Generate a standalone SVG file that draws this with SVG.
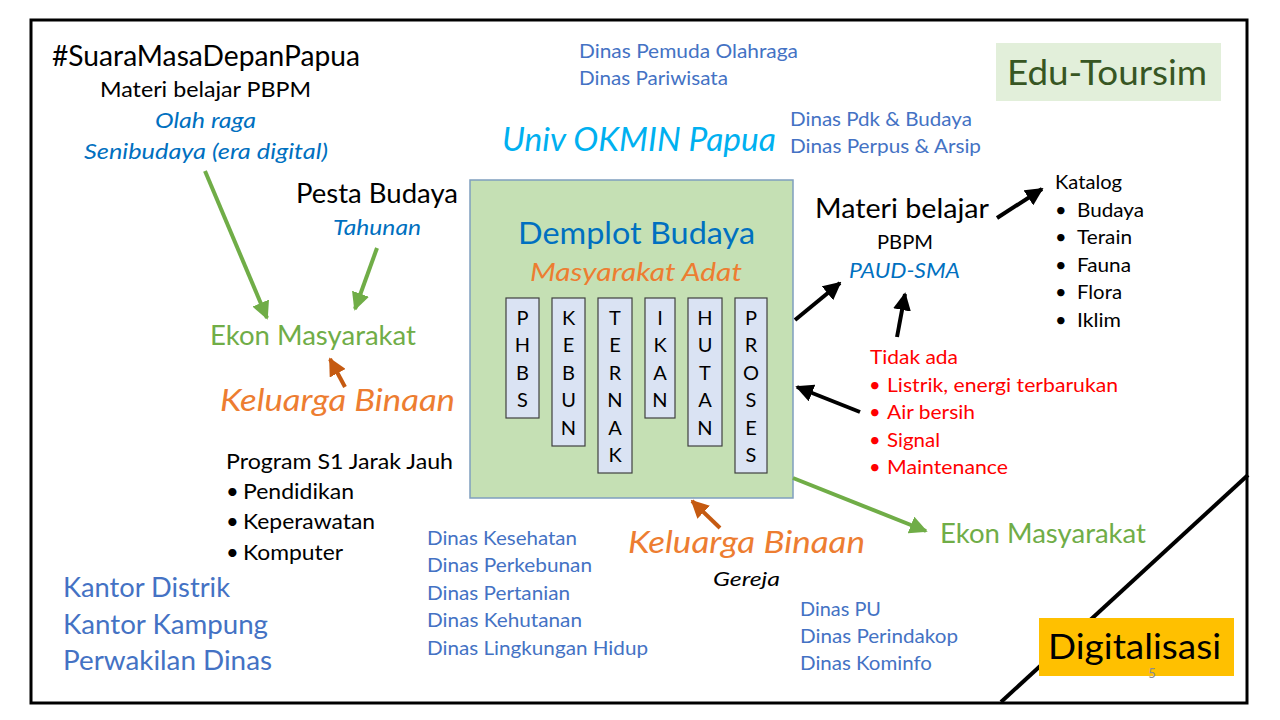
<svg xmlns="http://www.w3.org/2000/svg" width="1280" height="720" viewBox="0 0 1280 720">
<style>
text{font-family:Lato,"Open Sans","DejaVu Sans",sans-serif}
.blk{fill:#000}
.blu{fill:#4472c4}
.dblu{fill:#0070c0}
.org{fill:#ed7d31}
.grn{fill:#70ad47}
.red{fill:#ff0000}
.it{font-style:italic}
.mid{text-anchor:middle}
.bar{fill:#dae3f3;stroke:#404040;stroke-width:1.2}
.ltr{font-size:20px;fill:#000;text-anchor:middle}
.ag{stroke:#70ad47;stroke-width:4;fill:none}
.ab{stroke:#000;stroke-width:4;fill:none}
.ao{stroke:#c55a11;stroke-width:4;fill:none}
</style>
<defs>
<marker id="mg" viewBox="0 0 10 10" refX="9" refY="5" markerWidth="4.5" markerHeight="4.5" orient="auto" markerUnits="strokeWidth"><path d="M0,0 L10,5 L0,10 z" fill="#70ad47"/></marker>
<marker id="mb" viewBox="0 0 10 10" refX="9" refY="5" markerWidth="4.5" markerHeight="4.5" orient="auto" markerUnits="strokeWidth"><path d="M0,0 L10,5 L0,10 z" fill="#000"/></marker>
<marker id="mo" viewBox="0 0 10 10" refX="9" refY="5" markerWidth="4.5" markerHeight="4.5" orient="auto" markerUnits="strokeWidth"><path d="M0,0 L10,5 L0,10 z" fill="#c55a11"/></marker>
</defs>
<rect width="1280" height="720" fill="#fff"/>
<g id="frame">
<rect x="31" y="20" width="1216" height="683" fill="none" stroke="#000" stroke-width="3"/>
<line x1="1248" y1="475" x2="1001" y2="702" stroke="#000" stroke-width="4"/>
</g>
<g id="edu-toursim">
<rect x="996" y="43" width="225" height="58" fill="#e2efda"/>
<text x="1007" y="85" font-size="35" fill="#375623" textLength="200" lengthAdjust="spacingAndGlyphs">Edu-Toursim</text>
</g>
<g id="digitalisasi">
<rect x="1039" y="618" width="195" height="58" fill="#ffc000"/>
<text x="1048" y="659" class="blk" font-size="35" textLength="173" lengthAdjust="spacingAndGlyphs">Digitalisasi</text>
<text x="1152" y="678" class="mid" font-size="13" fill="#8c8c8c">5</text>
</g>
<g id="demplot">
<rect x="470" y="180" width="323" height="318" fill="#c5e0b4" stroke="#7f9fbf" stroke-width="1.5"/>
<text x="518" y="244" class="dblu" font-size="31" textLength="237" lengthAdjust="spacingAndGlyphs">Demplot Budaya</text>
<text x="530" y="281" class="org it" font-size="26" textLength="212" lengthAdjust="spacingAndGlyphs">Masyarakat Adat</text>
</g>
<g id="phbs"><rect class="bar" x="506" y="298" width="33" height="120"/>
<text class="ltr" x="522.5" y="325">P</text><text class="ltr" x="522.5" y="352">H</text><text class="ltr" x="522.5" y="380">B</text><text class="ltr" x="522.5" y="407">S</text></g>
<g id="kebun"><rect class="bar" x="552" y="298" width="33" height="148"/>
<text class="ltr" x="568.5" y="325">K</text><text class="ltr" x="568.5" y="352">E</text><text class="ltr" x="568.5" y="380">B</text><text class="ltr" x="568.5" y="407">U</text><text class="ltr" x="568.5" y="435">N</text></g>
<g id="ternak"><rect class="bar" x="598" y="298" width="34" height="175"/>
<text class="ltr" x="615" y="325">T</text><text class="ltr" x="615" y="352">E</text><text class="ltr" x="615" y="380">R</text><text class="ltr" x="615" y="407">N</text><text class="ltr" x="615" y="435">A</text><text class="ltr" x="615" y="462">K</text></g>
<g id="ikan"><rect class="bar" x="645" y="298" width="30" height="120"/>
<text class="ltr" x="660" y="325">I</text><text class="ltr" x="660" y="352">K</text><text class="ltr" x="660" y="380">A</text><text class="ltr" x="660" y="407">N</text></g>
<g id="hutan"><rect class="bar" x="688" y="298" width="34" height="148"/>
<text class="ltr" x="705" y="325">H</text><text class="ltr" x="705" y="352">U</text><text class="ltr" x="705" y="380">T</text><text class="ltr" x="705" y="407">A</text><text class="ltr" x="705" y="435">N</text></g>
<g id="proses"><rect class="bar" x="735" y="298" width="32" height="175"/>
<text class="ltr" x="751" y="325">P</text><text class="ltr" x="751" y="352">R</text><text class="ltr" x="751" y="380">O</text><text class="ltr" x="751" y="407">S</text><text class="ltr" x="751" y="435">E</text><text class="ltr" x="751" y="462">S</text></g>
<g id="suara">
<text x="52" y="66" class="blk" font-size="28" textLength="308" lengthAdjust="spacingAndGlyphs">#SuaraMasaDepanPapua</text>
<text x="100" y="97" class="blk" font-size="22" textLength="211" lengthAdjust="spacingAndGlyphs">Materi belajar PBPM</text>
<text x="155" y="128" class="dblu it" font-size="22" textLength="101" lengthAdjust="spacingAndGlyphs">Olah raga</text>
<text x="84" y="159" class="dblu it" font-size="22" textLength="244" lengthAdjust="spacingAndGlyphs">Senibudaya (era digital)</text>
</g>
<g id="pesta">
<text x="296" y="203" class="blk" font-size="26" textLength="162" lengthAdjust="spacingAndGlyphs">Pesta Budaya</text>
<text x="333" y="235" class="dblu it" font-size="22" textLength="88" lengthAdjust="spacingAndGlyphs">Tahunan</text>
</g>
<g id="ekon-left"><text x="210" y="345" class="grn" font-size="26" textLength="206" lengthAdjust="spacingAndGlyphs">Ekon Masyarakat</text></g>
<g id="keluarga-left"><text x="220" y="411" class="org it" font-size="30" textLength="235" lengthAdjust="spacingAndGlyphs">Keluarga Binaan</text></g>
<g id="program">
<text x="226" y="469" class="blk" font-size="22" textLength="227" lengthAdjust="spacingAndGlyphs">Program S1 Jarak Jauh</text>
<text x="226" y="499" class="blk" font-size="22">•</text>
<text x="243" y="499" class="blk" font-size="22" textLength="111" lengthAdjust="spacingAndGlyphs">Pendidikan</text>
<text x="226" y="529" class="blk" font-size="22">•</text>
<text x="243" y="529" class="blk" font-size="22" textLength="132" lengthAdjust="spacingAndGlyphs">Keperawatan</text>
<text x="226" y="560" class="blk" font-size="22">•</text>
<text x="243" y="560" class="blk" font-size="22" textLength="100" lengthAdjust="spacingAndGlyphs">Komputer</text>
</g>
<g id="kantor">
<text x="63" y="597" class="blu" font-size="26" textLength="167" lengthAdjust="spacingAndGlyphs">Kantor Distrik</text>
<text x="63" y="634" class="blu" font-size="26" textLength="205" lengthAdjust="spacingAndGlyphs">Kantor Kampung</text>
<text x="63" y="670" class="blu" font-size="26" textLength="209" lengthAdjust="spacingAndGlyphs">Perwakilan Dinas</text>
</g>
<g id="dinas-bottom">
<text x="427" y="545" class="blu" font-size="20" textLength="150" lengthAdjust="spacingAndGlyphs">Dinas Kesehatan</text>
<text x="427" y="572" class="blu" font-size="20" textLength="165" lengthAdjust="spacingAndGlyphs">Dinas Perkebunan</text>
<text x="427" y="600" class="blu" font-size="20" textLength="143" lengthAdjust="spacingAndGlyphs">Dinas Pertanian</text>
<text x="427" y="627" class="blu" font-size="20" textLength="155" lengthAdjust="spacingAndGlyphs">Dinas Kehutanan</text>
<text x="427" y="655" class="blu" font-size="20" textLength="221" lengthAdjust="spacingAndGlyphs">Dinas Lingkungan Hidup</text>
</g>
<g id="keluarga-bottom">
<text x="628" y="553" class="org it" font-size="30" textLength="237" lengthAdjust="spacingAndGlyphs">Keluarga Binaan</text>
<text x="713" y="586" class="blk it" font-size="20" textLength="67" lengthAdjust="spacingAndGlyphs">Gereja</text>
</g>
<g id="dinas-pu">
<text x="800" y="616" class="blu" font-size="20" textLength="81" lengthAdjust="spacingAndGlyphs">Dinas PU</text>
<text x="800" y="643" class="blu" font-size="20" textLength="158" lengthAdjust="spacingAndGlyphs">Dinas Perindakop</text>
<text x="800" y="670" class="blu" font-size="20" textLength="132" lengthAdjust="spacingAndGlyphs">Dinas Kominfo</text>
</g>
<g id="ekon-right"><text x="940" y="543" class="grn" font-size="26" textLength="206" lengthAdjust="spacingAndGlyphs">Ekon Masyarakat</text></g>
<g id="dinas-top">
<text x="579" y="58" class="blu" font-size="20" textLength="219" lengthAdjust="spacingAndGlyphs">Dinas Pemuda Olahraga</text>
<text x="579" y="85" class="blu" font-size="20" textLength="149" lengthAdjust="spacingAndGlyphs">Dinas Pariwisata</text>
</g>
<g id="univ"><text x="502" y="151" class="it" font-size="32" fill="#00b0f0" textLength="274" lengthAdjust="spacingAndGlyphs">Univ OKMIN Papua</text></g>
<g id="dinas-pdk">
<text x="790" y="126" class="blu" font-size="20" textLength="182" lengthAdjust="spacingAndGlyphs">Dinas Pdk &amp; Budaya</text>
<text x="790" y="153" class="blu" font-size="20" textLength="191" lengthAdjust="spacingAndGlyphs">Dinas Perpus &amp; Arsip</text>
</g>
<g id="materi-right">
<text x="815" y="218" class="blk" font-size="26" textLength="174" lengthAdjust="spacingAndGlyphs">Materi belajar</text>
<text x="877" y="249" class="blk" font-size="19" textLength="56" lengthAdjust="spacingAndGlyphs">PBPM</text>
<text x="849" y="278" class="dblu it" font-size="22" textLength="111" lengthAdjust="spacingAndGlyphs">PAUD-SMA</text>
</g>
<g id="katalog">
<text x="1055" y="189" class="blk" font-size="20" textLength="67" lengthAdjust="spacingAndGlyphs">Katalog</text>
<text x="1055" y="217" class="blk" font-size="20">•</text>
<text x="1077" y="217" class="blk" font-size="20" textLength="67" lengthAdjust="spacingAndGlyphs">Budaya</text>
<text x="1055" y="244" class="blk" font-size="20">•</text>
<text x="1077" y="244" class="blk" font-size="20" textLength="55" lengthAdjust="spacingAndGlyphs">Terain</text>
<text x="1055" y="272" class="blk" font-size="20">•</text>
<text x="1077" y="272" class="blk" font-size="20" textLength="54" lengthAdjust="spacingAndGlyphs">Fauna</text>
<text x="1055" y="299" class="blk" font-size="20">•</text>
<text x="1077" y="299" class="blk" font-size="20" textLength="45" lengthAdjust="spacingAndGlyphs">Flora</text>
<text x="1055" y="327" class="blk" font-size="20">•</text>
<text x="1077" y="327" class="blk" font-size="20" textLength="44" lengthAdjust="spacingAndGlyphs">Iklim</text>
</g>
<g id="tidak-ada">
<text x="870" y="364" class="red" font-size="20" textLength="88" lengthAdjust="spacingAndGlyphs">Tidak ada</text>
<text x="869" y="392" class="red" font-size="20">•</text>
<text x="887" y="392" class="red" font-size="20" textLength="231" lengthAdjust="spacingAndGlyphs">Listrik, energi terbarukan</text>
<text x="869" y="419" class="red" font-size="20">•</text>
<text x="887" y="419" class="red" font-size="20" textLength="88" lengthAdjust="spacingAndGlyphs">Air bersih</text>
<text x="869" y="447" class="red" font-size="20">•</text>
<text x="887" y="447" class="red" font-size="20" textLength="53" lengthAdjust="spacingAndGlyphs">Signal</text>
<text x="869" y="474" class="red" font-size="20">•</text>
<text x="887" y="474" class="red" font-size="20" textLength="121" lengthAdjust="spacingAndGlyphs">Maintenance</text>
</g>
<g id="connectors">
<line class="ag" x1="205" y1="171" x2="267" y2="318" marker-end="url(#mg)"/>
<line class="ag" x1="377" y1="248" x2="355" y2="309" marker-end="url(#mg)"/>
<line class="ao" x1="345" y1="387" x2="330" y2="359" marker-end="url(#mo)"/>
<line class="ao" x1="720" y1="528" x2="692" y2="501" marker-end="url(#mo)"/>
<line class="ag" x1="793" y1="478" x2="926" y2="531" marker-end="url(#mg)"/>
<line class="ab" x1="795" y1="320" x2="840" y2="283" marker-end="url(#mb)"/>
<line class="ab" x1="897" y1="337" x2="905" y2="294" marker-end="url(#mb)"/>
<line class="ab" x1="997" y1="218" x2="1042" y2="189" marker-end="url(#mb)"/>
<line class="ab" x1="860" y1="412" x2="797" y2="387" marker-end="url(#mb)"/>
</g>
</svg>
